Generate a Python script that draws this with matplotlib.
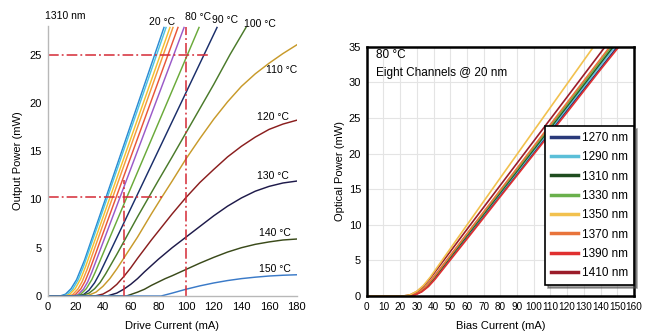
import matplotlib
matplotlib.use("Agg")
import matplotlib.pyplot as plt

plt.rcParams['font.family'] = ['Liberation Sans', 'DejaVu Sans']

# ---- left: output power vs drive current at 1310 nm, per temperature ----
temps = ['20 °C', '30 °C', '40 °C', '50 °C', '60 °C', '70 °C', '80 °C',
         '90 °C', '100 °C', '110 °C', '120 °C', '130 °C', '140 °C', '150 °C']
temp_colors = ['#2a8ad4', '#4ec3e0', '#f2c230', '#f59a3a', '#e8553a', '#9a5ac8',
               '#6aaa3a', '#1a2e6a', '#4a7a2a', '#c89a2a', '#8a1e1e', '#1e1a4a',
               '#3a4a1a', '#3a7ac8']

drive_i = [
    [0, 9, 13, 17, 21, 26.8, 42.2, 84.1],
    [0, 11, 14, 18, 22, 26.2, 43.2, 85.6],
    [0, 12.5, 16, 20, 24, 27.5, 45.1, 88.4],
    [0, 15, 18, 22, 25, 28.6, 47, 90.6],
    [0, 17, 20, 24, 27, 30.2, 49.5, 94.2],
    [0, 19, 22, 26, 29, 32, 52.3, 98.6],
    [0, 20, 24, 28, 32, 34.4, 57.2, 109.4],
    [0, 22, 26, 30, 34, 37.8, 63.9, 122.4],
    [0, 22, 26, 30, 34, 38, 42, 46, 50, 55, 60, 65, 73, 80, 90, 100, 110, 120,
     131.8, 143.3],
    [0, 26, 30, 35, 40, 45, 50, 55, 60, 65, 70, 75, 82.4, 90, 100, 110, 120,
     130, 140, 150, 160, 170, 180],
    [0, 34, 40, 45, 50, 55, 60, 65, 70, 75, 80, 85, 90, 100, 110, 120, 130,
     140, 150, 160, 170, 180],
    [0, 43, 50, 55, 60, 65, 70, 80, 90, 100, 110, 120, 130, 140, 150, 160,
     170, 180],
    [0, 57, 65, 70, 75, 80, 85, 90, 100, 110, 120, 130, 140, 150, 160, 170, 180],
    [0, 82, 90, 100, 110, 120, 130, 140, 150, 160, 170, 180],
]
out_p = [
    [0, 0, 0.19, 0.76, 1.7, 3.74, 10.2, 27.8],
    [0, 0, 0.12, 0.67, 1.65, 3.15, 10.2, 27.8],
    [0, 0, 0.17, 0.76, 1.79, 3.05, 10.2, 27.8],
    [0, 0, 0.13, 0.73, 1.49, 2.75, 10.2, 27.8],
    [0, 0, 0.13, 0.73, 1.49, 2.6, 10.2, 27.8],
    [0, 0, 0.13, 0.72, 1.46, 2.47, 10.2, 27.8],
    [0, 0, 0.19, 0.76, 1.7, 2.45, 10.2, 27.8],
    [0, 0, 0.15, 0.61, 1.37, 2.37, 10.2, 27.8],
    [0, 0, 0.1, 0.3, 0.75, 1.4, 2.3, 3.3, 4.3, 5.6, 6.9, 8.2, 10.2, 11.95,
     14.4, 16.9, 19.4, 21.9, 25.0, 27.8],
    [0, 0, 0.1, 0.4, 1.0, 1.8, 2.8, 3.9, 5.0, 6.1, 7.3, 8.5, 10.2, 11.9, 14.2,
     16.3, 18.3, 20.1, 21.7, 23.0, 24.1, 25.1, 26.0],
    [0, 0, 0.2, 0.6, 1.2, 2.0, 2.9, 3.9, 4.85, 5.8, 6.7, 7.6, 8.5, 10.2, 11.75,
     13.1, 14.4, 15.5, 16.45, 17.25, 17.8, 18.2],
    [0, 0, 0.3, 0.7, 1.2, 1.8, 2.5, 3.8, 5.0, 6.1, 7.2, 8.3, 9.3, 10.15, 10.85,
     11.35, 11.7, 11.9],
    [0, 0, 0.4, 0.7, 1.1, 1.45, 1.8, 2.1, 2.75, 3.4, 4.0, 4.55, 5.0, 5.35, 5.6,
     5.8, 5.9],
    [0, 0, 0.3, 0.7, 1.05, 1.35, 1.6, 1.8, 1.95, 2.07, 2.15, 2.2],
]
# label anchors (current, power) for the temperature tags
label_pos = {'20 °C': (82.4, 28.4), '80 °C': (109.0, 28.9), '90 °C': (128.4, 28.6),
             '100 °C': (153.4, 28.2), '110 °C': (169.1, 23.4), '120 °C': (162.8, 18.5),
             '130 °C': (162.8, 12.4), '140 °C': (164.3, 6.5), '150 °C': (164.3, 2.8)}

# ---- right: eight CWDM channels at 80 °C ----
channels = ['1270 nm', '1290 nm', '1310 nm', '1330 nm',
            '1350 nm', '1370 nm', '1390 nm', '1410 nm']
ch_colors = ['#2a3a7a', '#5bbfd8', '#1f4d1f', '#6ab04c',
             '#f2c14e', '#e8743b', '#e03030', '#9b1c2a']
bias_i = [
    [0, 24.5, 28.5, 32.5, 36.5, 40.5, 60, 80, 100, 120, 140, 150],
    [0, 24, 28, 32, 36, 40, 60, 80, 100, 120, 140, 148.5],
    [0, 24, 28, 32, 36, 40, 60, 80, 100, 120, 140, 147.5],
    [0, 23.5, 27.5, 31.5, 35.5, 39.5, 60, 80, 100, 120, 140, 146.5],
    [0, 22, 26, 30, 34, 38, 60, 80, 100, 120, 135.8],
    [0, 23.5, 27.5, 31.5, 35.5, 39.5, 60, 80, 100, 120, 140, 145.5],
    [0, 25, 29, 33, 37, 41, 60, 80, 100, 120, 140, 151],
    [0, 22, 26, 30, 34, 38, 60, 80, 100, 120, 140, 142.7],
]
opt_p = [
    [0, 0, 0.15, 0.6, 1.34, 2.38, 8.2, 14.16, 20.1, 26.1, 32.0, 35],
    [0, 0, 0.15, 0.6, 1.35, 2.4, 8.4, 14.4, 20.4, 26.4, 32.4, 35],
    [0, 0, 0.15, 0.61, 1.36, 2.42, 8.48, 14.54, 20.6, 26.66, 32.72, 35],
    [0, 0, 0.15, 0.61, 1.37, 2.43, 8.66, 14.74, 20.82, 26.9, 32.98, 35],
    [0, 0, 0.17, 0.66, 1.49, 2.64, 9.97, 16.6, 23.2, 29.8, 35],
    [0, 0, 0.15, 0.61, 1.38, 2.46, 8.75, 14.89, 21.03, 27.17, 33.3, 35],
    [0, 0, 0.15, 0.59, 1.34, 2.38, 8.0, 13.96, 19.9, 25.8, 31.8, 35],
    [0, 0, 0.16, 0.62, 1.4, 2.48, 9.36, 15.56, 21.76, 27.96, 34.16, 35],
]
draw_order = [0, 1, 2, 3, 5, 6, 7, 4]

fig = plt.figure(figsize=(6.5, 3.36), dpi=100)
fs = 8

# left panel
ax1 = fig.add_axes([0.0731, 0.119, 0.3835, 0.805])
for name, c, xs, ys in zip(temps, temp_colors, drive_i, out_p):
    ax1.plot(xs, ys, color=c, lw=1.05, solid_joinstyle='round')
for name, (x, y) in label_pos.items():
    ax1.text(x, y, name, ha='center', va='center', fontsize=7.5, clip_on=False)
ax1.text(-1.8, 29.0, '1310 nm', ha='left', va='center', fontsize=7.5, clip_on=False)

red = '#d42a36'
dd = dict(color=red, lw=1.1, dashes=(7, 2, 1.2, 2))
ax1.plot([0, 82.4], [10.2, 10.2], **dd)
ax1.plot([55, 55], [0, 12], **dd)
ax1.plot([0, 116], [25, 25], **dd)
ax1.plot([100, 100], [0, 27.8], **dd)

ax1.set_xlim(0, 180)
ax1.set_ylim(0, 28)
ax1.set_xticks(range(0, 181, 20))
ax1.set_yticks(range(0, 26, 5))
ax1.tick_params(length=0, labelsize=fs, pad=4)
for s in ('top', 'right'):
    ax1.spines[s].set_visible(False)
for s in ('left', 'bottom'):
    ax1.spines[s].set_color('#b8b8b8')
    ax1.spines[s].set_linewidth(1.0)
ax1.set_xlabel('Drive Current (mA)', fontsize=fs, labelpad=7)
ax1.set_ylabel('Output Power (mW)', fontsize=fs, labelpad=5)

# right panel
ax2 = fig.add_axes([0.5642, 0.119, 0.4112, 0.742])
for k in draw_order:
    ax2.plot(bias_i[k], opt_p[k], color=ch_colors[k], lw=1.2)
ax2.set_xlim(0, 160)
ax2.set_ylim(0, 35)
ax2.set_xticks(range(0, 161, 10))
ax2.set_yticks(range(0, 36, 5))
ax2.grid(True, color='#e4e4e4', lw=0.8)
ax2.set_axisbelow(True)
ax2.tick_params(length=0, labelsize=fs, pad=4)
ax2.tick_params(axis='x', labelsize=7.2)
for s in ax2.spines.values():
    s.set_linewidth(1.8)
    s.set_color('black')
ax2.text(5.4, 33.8, '80 °C', fontsize=fs + 0.5, va='center', ha='left')
ax2.text(5.4, 31.3, 'Eight Channels @ 20 nm', fontsize=fs + 0.5, va='center', ha='left')
ax2.set_xlabel('Bias Current (mA)', fontsize=fs, labelpad=7)
ax2.set_ylabel('Optical Power (mW)', fontsize=fs, labelpad=3)

handles = [plt.Line2D([], [], color=c, lw=2.5) for c in ch_colors]
leg = ax2.legend(handles, channels, loc='lower right', bbox_to_anchor=(1.022, 0.02),
                 fontsize=fs + 0.5, frameon=True, fancybox=False, shadow=True,
                 handlelength=2.3, labelspacing=0.62, borderpad=0.5, handletextpad=0.3)
leg.get_frame().set_edgecolor('black')
leg.get_frame().set_linewidth(1.2)

fig.savefig('out.png', dpi=100)
